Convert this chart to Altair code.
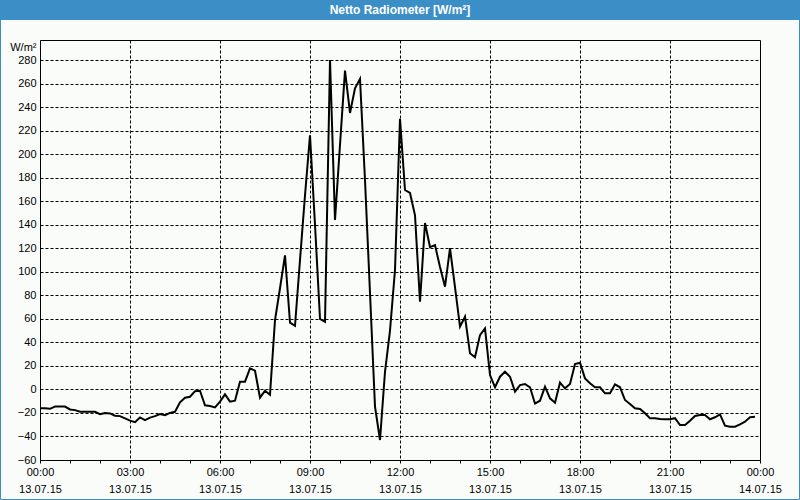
import altair as alt
import pandas as pd

# ---- data -------------------------------------------------------------
STEP_MIN = 10  # sampling interval in minutes, starting 13.07.15 00:00
values = [
    -16, -16, -16.5, -14.6, -14.6, -14.6, -17, -17.6, -19, -19,
    -19, -19, -21, -20, -20.4, -22.4, -22.7, -24.6, -26.5, -27.8,
    -23.8, -26.1, -24, -22.7, -21, -21.9, -20, -19, -11, -7,
    -6.2, -1.5, -1.1, -13.5, -14.1, -15.3, -10.4, -4.2, -10.4, -9.6,
    6.6, 6.6, 17.9, 15.9, -7, -1.1, -4.5, 59, 86, 114,
    56.7, 54, 110, 165, 216, 140, 60, 57.5, 280, 144,
    208, 271, 235, 256, 264, 178, 82, -14.7, -43, 15,
    50, 101.5, 230, 169.5, 167, 148, 74.6, 141.4, 121, 122.7,
    104, 87.3, 120, 87, 53.3, 61.8, 30.7, 27.3, 46.2, 51.9,
    12.2, 1.8, 10.8, 15, 10.8, -1.9, 3.7, 4.6, 1.8, -12,
    -9.6, 2.3, -7.6, -11.3, 5.7, 0.9, 4.6, 21.6, 22.7, 9.4,
    5.2, 1.8, 1.8, -3.3, -3.3, 4.3, 1.8, -9, -12.4, -16,
    -16.6, -20.3, -24.5, -24.5, -25.2, -25.4, -25.4, -24.5, -30.3, -30.3,
    -26.6, -22.6, -21.8, -21.8, -25.4, -23.7, -21.2, -30.8, -31.7, -31.7,
    -29.7, -27.4, -23.7, -23.2,
]
x_tick_hours = [0, 3, 6, 9, 12, 15, 18, 21, 24]
x_tick_times = ["00:00", "03:00", "06:00", "09:00", "12:00", "15:00", "18:00", "21:00", "00:00"]
x_tick_dates = ["13.07.15"] * 8 + ["14.07.15"]
x_minor_hours = list(range(0, 25))
y_ticks = [-60, -40, -20, 0, 20, 40, 60, 80, 100, 120, 140, 160, 180, 200, 220, 240, 260, 280]
y_domain = [-60, 297]
title_text = "Netto Radiometer [W/m²]"
y_unit = "W/m²"

df = pd.DataFrame({
    "hour": [i * STEP_MIN / 60 for i in range(len(values))],
    "value": values,
})

# ---- styles -----------------------------------------------------------
FONT = "Liberation Sans"
BLUE = "#3c8fc6"
BG = "#fafcfa"

times_js = "[" + ",".join(f"'{t}'" for t in x_tick_times) + "]"
dates_js = "[" + ",".join(f"'{d}'" for d in x_tick_dates) + "]"
label_expr = (
    f"datum.value % 3 === 0 ? [{times_js}[datum.value/3], {dates_js}[datum.value/3]] : ''"
)

x_axis = alt.Axis(
    values=x_minor_hours,
    labelExpr=label_expr,
    labelFont=FONT, labelFontSize=11, labelColor="black",
    labelAngle=0, labelBaseline="top", labelLineHeight=17, labelPadding=3,
    labelOverlap=False, labelFlush=False,
    ticks=True, tickSize=3, tickColor="black",
    domain=True, domainColor="black",
    grid=True, gridColor="black", gridDash=[3, 2], gridWidth=1,
    gridOpacity={"condition": {"test": "datum.value % 3 === 0 && datum.value > 0 && datum.value < 24", "value": 1}, "value": 0},
    title=None,
)

y_axis = alt.Axis(
    values=y_ticks,
    labelFont=FONT, labelFontSize=11, labelColor="black", labelPadding=4,
    ticks=False, domain=True, domainColor="black",
    grid=True, gridColor="black", gridDash=[3, 2], gridWidth=1,
    title=y_unit, titleAngle=0, titleAlign="right", titleBaseline="middle",
    titleX=-4, titleY=7, titleFont=FONT, titleFontSize=11, titleFontWeight="normal",
    titleColor="black",
)

line = alt.Chart(df).mark_line(color="black", strokeWidth=2, clip=True).encode(
    x=alt.X("hour:Q", scale=alt.Scale(domain=[0, 24], nice=False, zero=False), axis=x_axis),
    y=alt.Y("value:Q", scale=alt.Scale(domain=y_domain, nice=False, zero=False), axis=y_axis),
)

one = alt.Data(values=[{"t": title_text}])
title_bar = alt.Chart(one).mark_rect(fill=BLUE).encode(
    x=alt.value(-40), x2=alt.value(760), y=alt.value(-40), y2=alt.value(-20)
)
title_mark = alt.Chart(one).mark_text(
    color="white", font=FONT, fontSize=12, fontWeight="bold",
    align="center", baseline="middle",
).encode(x=alt.value(360), y=alt.value(-30), text="t:N")
frame = alt.Chart(one).mark_rect(fill=None, stroke=BLUE, strokeWidth=1).encode(
    x=alt.value(-39.5), x2=alt.value(759.5), y=alt.value(-39.5), y2=alt.value(459.5)
)

chart = alt.layer(title_bar, frame, title_mark, line).properties(
    width=720,
    height=420,
    padding={"left": 40, "top": 40, "right": 40, "bottom": 40},
    autosize=alt.AutoSizeParams(type="none"),
    background=BG,
).configure_view(stroke="black", strokeWidth=1)

chart.save("out.html", embed_options={"renderer": "svg", "actions": False})
